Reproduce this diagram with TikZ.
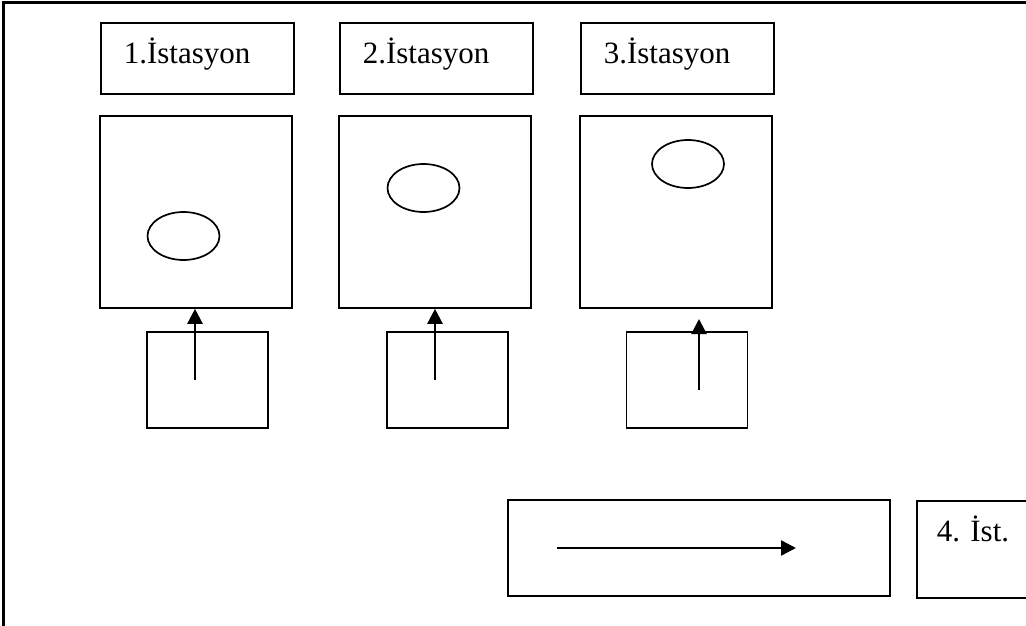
\documentclass[tikz,border=0pt]{standalone}
\usepackage{fontspec}
\setmainfont{Liberation Serif}
\usetikzlibrary{arrows.meta,shapes.geometric}
\begin{document}
\begin{tikzpicture}[x=1pt,y=-1pt,
      font=\fontsize{31}{37}\selectfont\frenchspacing,
      box/.style={draw,line width=1.6pt,inner sep=0pt},
      stlabel/.style={box,anchor=north west,inner xsep=23pt,text width=147pt,
        align=left,text height=41pt,text depth=30pt},
      stbox/.style={box,minimum width=192pt,minimum height=192pt},
      feedbox/.style={box,minimum width=121pt,minimum height=96pt},
      part/.style={draw,ellipse,line width=1.7pt,inner sep=0pt,
        minimum width=72pt,minimum height=48pt},
      push/.style={line width=2.4pt,-{Triangle[length=15pt,width=15pt]}}]
      \clip (0,0) rectangle (1026,626);
      % frame
      \draw[line width=2.6pt] (3.5,630) -- (3.5,2.5) -- (1030,2.5);
      % stations
      \node[stlabel] (lab1) at (100,22) {1.İstasyon};
      \node[stlabel] (lab2) at (339,22) {2.İstasyon};
      \node[stlabel] (lab3) at (580,22) {3.İstasyon};
      \node[stbox] (st1) at (196,212) {};
      \node[stbox] (st2) at (435,212) {};
      \node[stbox] (st3) at (676,212) {};
      \node[part] (part1) at (183.5,236) {};
      \node[part] (part2) at (423.5,188) {};
      \node[part] (part3) at (688,164) {};
      % feeders
      \node[feedbox] (feed1) at (207.5,380) {};
      \node[feedbox] (feed2) at (447.5,380) {};
      \node[feedbox] (feed3) at (687,380) {};
      \coordinate (in1) at (195,380);
      \coordinate (in2) at (435,380);
      \coordinate (in3) at (699,390);
      \coordinate (up3) at (699,319);
      \draw[push] (in1) -- (in1 |- st1.south);
      \draw[push] (in2) -- (in2 |- st2.south);
      \draw[push] (in3) -- (up3);
      % conveyor
      \node[box,minimum width=382pt,minimum height=96pt] (belt) at (699,548) {};
      \coordinate (bs) at (557,548);
      \coordinate (be) at (796,548);
      \draw[push] (bs) -- (be);
      \node[box,anchor=north west,inner xsep=20pt,text width=120pt,align=left,
        text height=41pt,text depth=56pt] (st4) at (916,500) {4. İst.};
\end{tikzpicture}
\end{document}
